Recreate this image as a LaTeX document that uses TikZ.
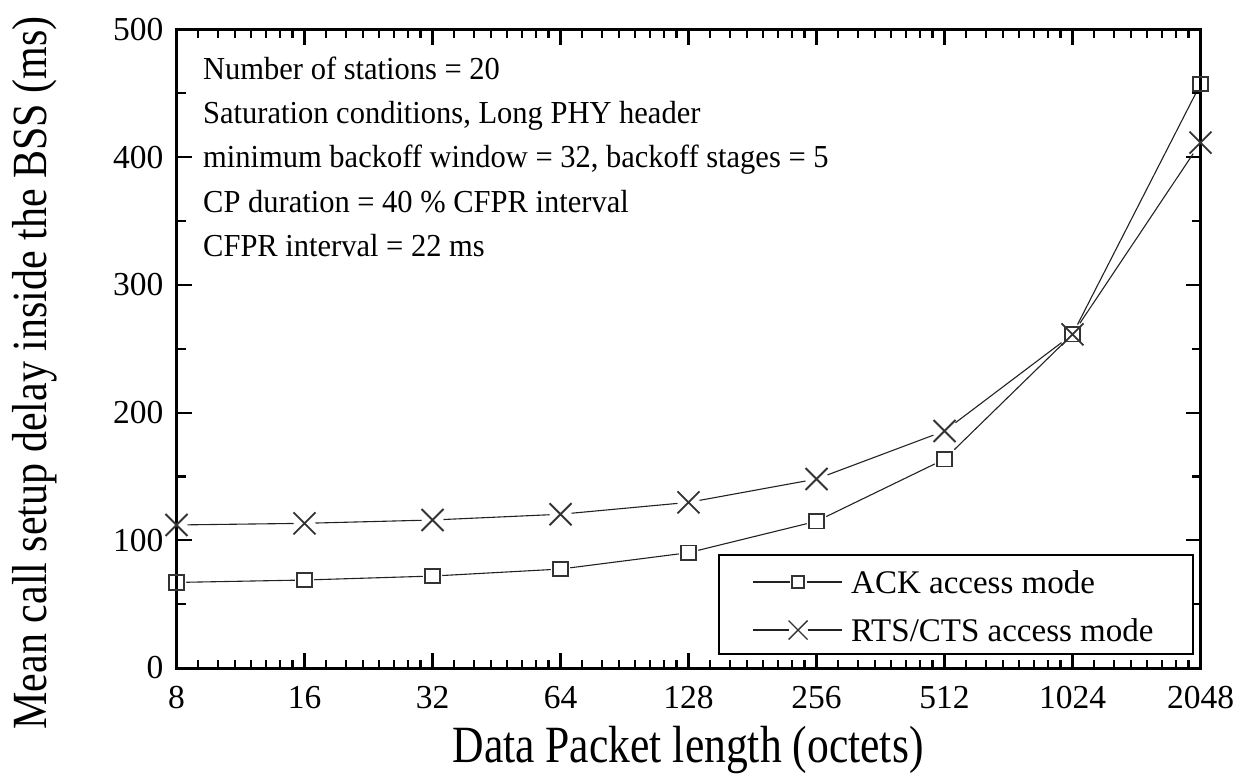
\documentclass[tikz,border=0pt]{standalone}
\usepackage{fontspec}
\setmainfont{Liberation Serif}
\usetikzlibrary{shapes.misc}
\definecolor{mk}{HTML}{333333}
\definecolor{ln}{HTML}{222222}
\tikzset{
  frame/.style={line width=3pt, line join=miter},
  tk/.style={line width=2.2pt},
  tlab/.style={font=\fontsize{33.5}{36}\selectfont, inner sep=0pt},
  info/.style={font=\fontsize{30.5}{34}\selectfont, inner sep=0pt, anchor=base west, yscale=1.05},
  sqm/.style={draw=mk, rectangle, line width=1.8pt, minimum size=14.5pt, inner sep=0pt, outer sep=2.5pt},
  crm/.style={draw=mk, cross out, line width=1.8pt, minimum size=18pt, inner sep=0pt, outer sep=2pt},
  lsqm/.style={draw=mk, rectangle, line width=1.6pt, minimum size=12pt, inner sep=0pt, outer sep=2.5pt},
  lcrm/.style={draw=mk, cross out, line width=1.4pt, minimum size=15pt, inner sep=0pt, outer sep=2pt},
  dl/.style={draw=ln, line width=1.1pt},
  legbox/.style={draw=black, fill=white, line width=1.2pt, minimum width=474pt, minimum height=99pt, inner sep=0pt},
  legtxt/.style={font=\fontsize{33}{36}\selectfont, inner sep=0pt, anchor=base west},
}
\begin{document}
\begin{tikzpicture}[x=1pt,y=-1pt]
\useasboundingbox (0,0) rectangle (1244,778);
\begin{scope}[shift={(176.5,668)}, x=128pt, y=1.277pt]
  % minor x ticks
  \foreach \k in {0,...,7} {
    \foreach \j in {1,...,7} {
      \pgfmathsetmacro\xx{\k+ln(1+\j/8)/ln(2)}
      \draw[tk] (\xx,0) -- ++(0,8pt);
      \draw[tk] (\xx,500) -- ++(0,-8pt);
    }
  }
  % major x ticks
  \foreach \k in {0,...,8} {
    \draw[tk] (\k,0) -- ++(0,15pt);
    \draw[tk] (\k,500) -- ++(0,-15pt);
  }
  % y ticks
  \foreach \v in {0,100,...,500} {
    \draw[tk] (0,\v) -- ++(15pt,0);
    \draw[tk] (8,\v) -- ++(-15pt,0);
    \node[tlab, anchor=east] (yl\v) at ([xshift=-13pt]0,\v) {\v};
  }
  \foreach \v in {50,150,...,450} {
    \draw[tk] (0,\v) -- ++(9pt,0);
    \draw[tk] (8,\v) -- ++(-9pt,0);
  }
  \draw[frame] (0,0) rectangle (8,500);
  % x labels
  \foreach \k/\n in {0/8,1/16,2/32,3/64,4/128,5/256,6/512,7/1024,8/2048} {
    \node[tlab] (xl\k) at ([yshift=-30pt]\k,0) {\n};
  }
  % data: ACK
  \foreach \k/\v in {0/67,1/68.9,2/72,3/77.5,4/90.3,5/114.9,6/163.5,7/261.3,8/457.3} {
    \node[sqm] (a\k) at (\k,\v) {};
  }
  % data: RTS/CTS
  \foreach \k/\v in {0/112,1/113.3,2/115.9,3/120.4,4/129.7,5/148,6/185.6,7/261.3,8/411.4} {
    \node[crm] (r\k) at (\k,\v) {};
  }
  \draw[dl] (a0) -- (a1) -- (a2) -- (a3) -- (a4) -- (a5) -- (a6) -- (a7) -- (a8);
  \draw[dl] (r0) -- (r1) -- (r2) -- (r3) -- (r4) -- (r5) -- (r6) -- (r7) -- (r8);
\end{scope}
% info text
\node[info] (t1) at (203,80) {Number of stations = 20};
\node[info] (t2) at (203,124) {Saturation conditions, Long PHY header};
\node[info] (t3) at (203,168) {minimum backoff window = 32, backoff stages = 5};
\node[info] (t4) at (203,212) {CP duration = 40 \% CFPR interval};
\node[info] (t5) at (203,256) {CFPR interval = 22 ms};
% legend
\node[legbox] (leg) at (956,604.5) {};
\coordinate (l1a) at (753,582);
\coordinate (l1b) at (842,582);
\node[lsqm] (lm1) at (798,582) {};
\draw[dl] (l1a) -- (lm1);
\draw[dl] (lm1) -- (l1b);
\node[legtxt] (lt1) at (851,593) {ACK access mode};
\coordinate (l2a) at (753,630);
\coordinate (l2b) at (842,630);
\node[lcrm] (lm2) at (798,630) {};
\draw[dl] (l2a) -- (lm2);
\draw[dl] (lm2) -- (l2b);
\node[legtxt] (lt2) at (851,641) {RTS/CTS access mode};
% axis titles
\node[font=\fontsize{43.6}{48}\selectfont, inner sep=0pt, anchor=base, yscale=1.2] (xt) at (688,762) {Data Packet length (octets)};
\node[font=\fontsize{42}{46}\selectfont, inner sep=0pt, anchor=base, xscale=1.17, rotate=90] (yt) at (46,373) {Mean call setup delay inside the BSS (ms)};
\end{tikzpicture}
\end{document}
